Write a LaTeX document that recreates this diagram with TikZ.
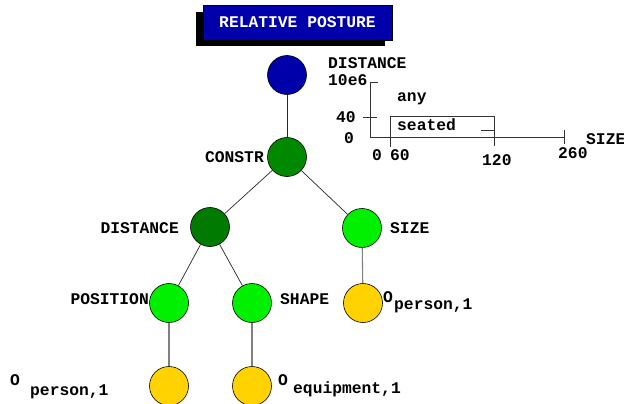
\documentclass[tikz,border=0pt]{standalone}
\usepackage{fontspec}
\setmainfont{Liberation Mono}
\begin{document}
\begin{tikzpicture}[x=1pt,y=-1pt,
  lbl/.style={inner sep=0pt, font=\fontsize{16.3}{16}\selectfont\bfseries},
  vtx/.style={circle, draw=black, line width=0.6pt, minimum size=39pt, inner sep=0pt},
  tedge/.style={draw=black!85, line width=0.7pt},
  gedge/.style={draw=black!50, line width=1.1pt},
  axis/.style={draw=black!80, line width=0.7pt}]
\definecolor{navy}{RGB}{0,0,170}
\definecolor{midgreen}{RGB}{0,136,0}
\definecolor{lime}{RGB}{0,240,0}
\definecolor{gold}{RGB}{255,210,0}
\useasboundingbox (0,0) rectangle (624,404);
% title
\fill[black] (196,12) rectangle (385,46);
\node[draw=black, line width=0.5pt, fill=navy, minimum width=189pt, minimum height=35pt, inner sep=0pt,
  text=white, font=\fontsize{16.3}{16}\selectfont\bfseries] (title) at (297.5,22.5) {RELATIVE POSTURE};
% tree nodes
\node[vtx, fill=navy] (root) at (287,75) {};
\node[vtx, fill=midgreen] (constr) at (287,157) {};
\node[vtx, fill=midgreen!90!black] (dist) at (210,227) {};
\node[vtx, fill=lime] (size) at (362,228) {};
\node[vtx, fill=lime] (pos) at (169,303) {};
\node[vtx, fill=lime] (shape) at (252,303) {};
\node[vtx, fill=gold] (oper1) at (363,303) {};
\node[vtx, fill=gold] (oper2) at (169,386) {};
\node[vtx, fill=gold] (oequip) at (252,386) {};
% edges
\draw[tedge] (root) -- (constr);
\draw[tedge] (constr) -- (dist);
\draw[tedge] (constr) -- (size);
\draw[tedge] (dist) -- (pos);
\draw[tedge] (dist) -- (shape);
\draw[gedge] (size) -- (oper1);
\draw[gedge] (pos) -- (oper2);
\draw[gedge] (shape) -- (oequip);
% tree labels
\node[lbl, anchor=east] (lconstr) at (264,157) {CONSTR};
\node[lbl, anchor=east] (ldist) at (179,228) {DISTANCE};
\node[lbl, anchor=west] (lsize) at (390,228) {SIZE};
\node[lbl, anchor=east] (lpos) at (149,299) {POSITION};
\node[lbl, anchor=west] (lshape) at (280,299) {SHAPE};
\node[lbl, anchor=west] (o1) at (383,297) {O};
\node[lbl, anchor=west] (s1) at (394,306) {person,1};
\node[lbl, anchor=west] (o2) at (10,380) {O};
\node[lbl, anchor=west] (s2) at (30,392) {person,1};
\node[lbl, anchor=west] (o3) at (278,380) {O};
\node[lbl, anchor=west] (s3) at (293,389) {equipment,1};
% chart
\coordinate (org) at (370,137);
\coordinate (ytop) at (370,82);
\coordinate (xend) at (564,137);
\draw[axis] (ytop) -- (org) -- (xend);
\draw[axis] (ytop) -- ++(8,0);
\draw[axis] (363,117) -- (377,117);
\draw[axis] (564,130) -- (564,144);
\draw[axis] (390,147) -- (390,116) -- (494,116) -- (494,146);
\draw[axis] (481,130) -- (494,130);
\node[lbl, anchor=west] (cdist) at (328,63) {DISTANCE};
\node[lbl, anchor=west] (c10) at (328,80) {10e6};
\node[lbl, anchor=west] (c40) at (336,117) {40};
\node[lbl, anchor=west] (c0) at (344,138) {0};
\node[lbl, anchor=west] (cany) at (397,99) {any};
\node[lbl, anchor=west] (cseat) at (397,125) {seated};
\node[lbl, anchor=west] (csize) at (586,139) {SIZE};
\node[lbl, anchor=west] (x0) at (372,155) {0};
\node[lbl, anchor=west] (x60) at (390,155) {60};
\node[lbl, anchor=west] (x120) at (482,160) {120};
\node[lbl, anchor=west] (x260) at (558,153) {260};
\end{tikzpicture}
\end{document}
